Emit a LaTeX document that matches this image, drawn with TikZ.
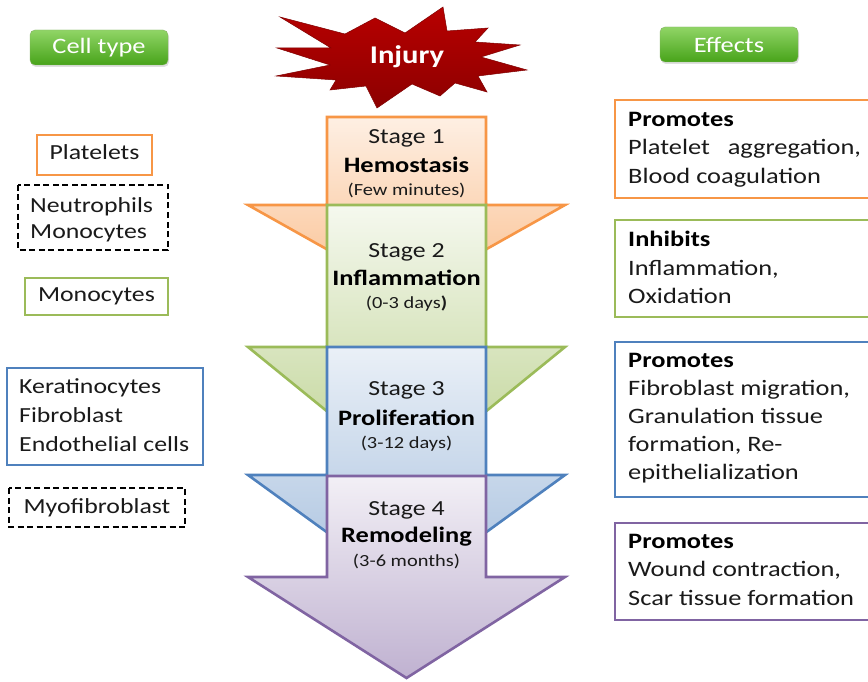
\documentclass[tikz,border=0pt]{standalone}
\usepackage{fontspec}
\setmainfont[FakeStretch=1.2]{Carlito}
\usetikzlibrary{shadows}
\definecolor{orng}{HTML}{F79646}
\definecolor{grn}{HTML}{9BBB59}
\definecolor{blu}{HTML}{4F81BD}
\definecolor{purp}{HTML}{8064A2}
\definecolor{txt}{HTML}{1A1A1A}
\tikzset{
  stagebox/.style={line width=2.6pt, line join=miter},
  sone/.style={stagebox, draw=orng, top color=orng!15, bottom color=orng!60},
  stwo/.style={stagebox, draw=grn, top color=grn!10, bottom color=grn!65},
  sthree/.style={stagebox, draw=blu, top color=blu!12, bottom color=blu!50},
  sfour/.style={stagebox, draw=purp, top color=purp!10, bottom color=purp!50},
  stxt/.style={font=\fontsize{21.5}{24}\selectfont, text=txt, inner sep=0pt},
  sbold/.style={font=\fontsize{22}{24}\selectfont\bfseries, text=black, inner sep=0pt},
  ssmall/.style={font=\fontsize{17}{20}\selectfont, text=txt, inner sep=0pt},
  cbox/.style={line width=1.8pt, inner sep=0pt},
  dbox/.style={line width=1.8pt, draw=black, dash pattern=on 6pt off 3.5pt, inner sep=0pt},
  ltxt/.style={font=\fontsize{21.5}{26}\selectfont, text=txt, inner sep=0pt, text height=15pt, text depth=5pt},
  rtxt/.style={font=\fontsize{22}{26}\selectfont, text=txt, inner sep=0pt, text height=15pt, text depth=5pt, anchor=west},
  rbold/.style={rtxt, font=\fontsize{22}{26}\selectfont\bfseries, text=black},
  btn/.style={rounded corners=5pt, top color=green!45!olive!60!white, bottom color=green!50!olive!80!black!90,
    draw=green!40!olive!70!black!60, line width=0.4pt, drop shadow={shadow xshift=1pt, shadow yshift=-2pt, opacity=0.25},
    text=white, font=\fontsize{22}{24}\selectfont, minimum width=138pt, minimum height=35pt, inner sep=0pt}
}
\begin{document}
\begin{tikzpicture}[x=1pt,y=-1pt]
\useasboundingbox (0,0) rectangle (868,682);
\clip (0,0) rectangle (868,682);
\fill[white] (0,0) rectangle (868,682);

% Injury star
\draw[top color=red!60!black!70!red, bottom color=red!55!black, draw=red!50!black, line width=0.5pt, line join=miter]
  (280,17) -- (345,34) -- (375,18) -- (405,33) -- (443,7) -- (447,31) -- (488,28) -- (475,42)
  -- (520,45) -- (481,57) -- (527,70) -- (478,76) -- (487,92) -- (455,83) -- (440,96)
  -- (412,84) -- (377,108) -- (366,86) -- (330,90) -- (336,80) -- (276,76) -- (330,65)
  -- (277,48) -- (331,48) -- cycle;
\node[font=\fontsize{25.5}{30}\selectfont\bfseries, text=white, inner sep=0pt] (injury) at (407,57) {Injury};

% Stage arrows
\draw[sone] (327,117) -- (486,117) -- (486,205) -- (565,205) -- (406.5,294) -- (248,205) -- (327,205) -- cycle;
\draw[stwo] (327,205) -- (486,205) -- (486,347) -- (565,347) -- (406.5,476) -- (248,347) -- (327,347) -- cycle;
\draw[sthree] (327,347) -- (486,347) -- (486,475) -- (565,475) -- (406.5,590) -- (248,475) -- (327,475) -- cycle;
\draw[sfour] (327,476) -- (486,476) -- (486,577) -- (565,577) -- (406.5,678) -- (248,577) -- (327,577) -- cycle;

\node[stxt] (s1a) at (406.5,138) {Stage 1};
\node[sbold] (s1b) at (406.5,165) {Hemostasis};
\node[ssmall] (s1c) at (406.5,190) {(Few minutes)};
\node[stxt] (s2a) at (406.5,252) {Stage 2};
\node[sbold] (s2b) at (406.5,278) {Inflammation};
\node[ssmall] (s2c) at (406.5,304) {(0-3 days\textbf{)}};
\node[stxt] (s3a) at (406.5,390) {Stage 3};
\node[sbold] (s3b) at (406.5,418) {Proliferation};
\node[ssmall] (s3c) at (406.5,444) {(3-12 days)};
\node[stxt] (s4a) at (406.5,510) {Stage 4};
\node[sbold] (s4b) at (406.5,537) {Remodeling};
\node[ssmall] (s4c) at (406.5,561) {(3-6 months)};

% Header buttons
\node[btn] (celltype) at (99,47.5) {Cell type};
\node[btn] (effects) at (729,44.5) {Effects};

% Left cell type boxes
\draw[cbox, draw=orng] (37,135) rectangle (152,175);
\node[ltxt] (platelets) at (94.5,155) {Platelets};
\draw[dbox] (18,185) rectangle (168,250);
\node[ltxt, anchor=west] (neutro) at (30,207) {Neutrophils};
\node[ltxt, anchor=west] (mono1) at (30,233) {Monocytes};
\draw[cbox, draw=grn] (25,278) rectangle (168,315);
\node[ltxt] (mono2) at (96.5,296) {Monocytes};
\draw[cbox, draw=blu] (7,368) rectangle (203,465);
\node[ltxt, anchor=west] (kera) at (19,388) {Keratinocytes};
\node[ltxt, anchor=west] (fibro) at (19,417) {Fibroblast};
\node[ltxt, anchor=west] (endo) at (19,446) {Endothelial cells};
\draw[dbox] (9,488) rectangle (185,527);
\node[ltxt] (myo) at (97,508) {Myofibroblast};

% Right effect boxes
\draw[cbox, draw=orng] (615,100) rectangle (880,198);
\node[rbold] (e1a) at (628,122) {Promotes};
\node[rtxt] (e1b) at (628,150) {Platelet\ \ \ aggregation,};
\node[rtxt] (e1c) at (628,178) {Blood coagulation};
\draw[cbox, draw=grn] (615,220) rectangle (880,317);
\node[rbold] (e2a) at (628,242) {Inhibits};
\node[rtxt] (e2b) at (628,270) {Inflammation,};
\node[rtxt] (e2c) at (628,298) {Oxidation};
\draw[cbox, draw=blu] (615,342) rectangle (880,497);
\node[rbold] (e3a) at (628,362) {Promotes};
\node[rtxt] (e3b) at (628,390) {Fibroblast migration,};
\node[rtxt] (e3c) at (628,418) {Granulation tissue};
\node[rtxt] (e3d) at (628,446) {formation, Re-};
\node[rtxt] (e3e) at (628,474) {epithelialization};
\draw[cbox, draw=purp] (615,523) rectangle (880,620);
\node[rbold] (e4a) at (628,543) {Promotes};
\node[rtxt] (e4b) at (628,571) {Wound contraction,};
\node[rtxt] (e4c) at (628,600) {Scar tissue formation};
\end{tikzpicture}
\end{document}
